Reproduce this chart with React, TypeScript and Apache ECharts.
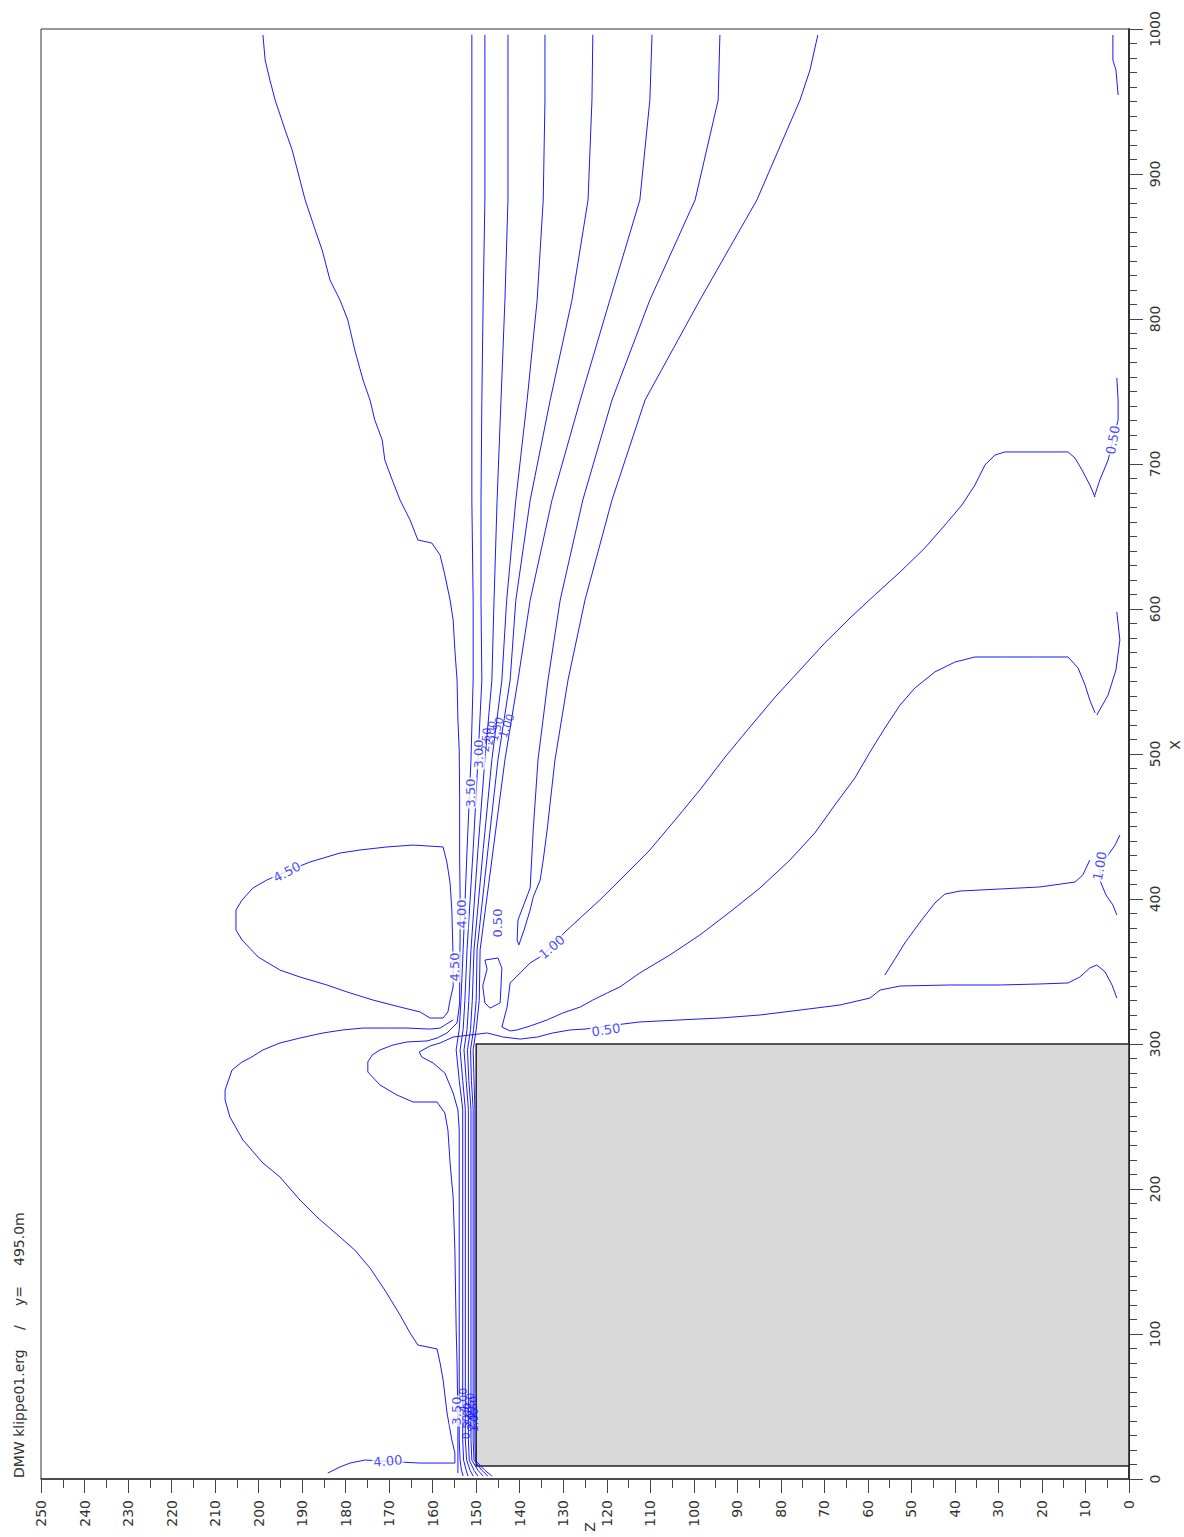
import React, { useEffect, useRef } from "react";
import * as echarts from "echarts";

// ---- axes ----
const Z_RANGE = [0, 250];
const X_RANGE = [0, 1000];
const CLIFF_Z = [0, 150];
const CLIFF_X = [9, 300];

// ---- shear-layer / cliff-top bundle (shared X stations, Z per contour) ----
const FAN_X = [996, 951, 882, 813, 744, 675, 606, 551, 496, 434, 365, 330, 310, 296, 275, 255, 27, 13, 6, 2];
const FAN_Z_350 = [151.0, 151.0, 151.0, 151.0, 151.0, 151.0, 150.7, 150.7, 151.2, 152.1, 153.0, 153.5, 153.9, 154.6, 153.9, 153.1, 153.1, 152.9, 152.3, 151.9];
const FAN_Z_300 = [148.0, 148.0, 148.0, 148.4, 148.7, 148.9, 148.9, 148.7, 149.6, 150.7, 152.1, 152.6, 153.0, 153.7, 153.1, 152.5, 152.5, 152.2, 151.4, 150.7];
const FAN_Z_250 = [142.7, 142.7, 142.7, 143.4, 144.3, 145.2, 145.9, 146.4, 148.0, 149.6, 151.2, 151.7, 152.1, 152.8, 152.3, 151.8, 151.8, 151.6, 150.5, 149.6];
const FAN_Z_200 = [134.2, 134.2, 134.6, 136.0, 138.3, 140.9, 143.0, 144.1, 146.4, 148.4, 150.5, 150.9, 151.3, 152.0, 151.7, 151.2, 151.2, 151.0, 149.6, 148.4];
const FAN_Z_150 = [123.2, 123.4, 124.3, 128.0, 133.0, 137.6, 140.9, 142.2, 145.0, 147.3, 149.8, 150.0, 150.6, 151.3, 151.1, 150.7, 150.7, 150.5, 148.7, 147.3];
const FAN_Z_100 = [109.6, 110.1, 112.4, 119.3, 126.1, 132.6, 137.6, 140.4, 143.4, 146.1, 149.1, 149.3, 150.0, 150.7, 150.5, 150.3, 150.3, 150.2, 148.0, 146.4];

// ---- individual contour polylines [Z, X] ----
const C400_OUTER = [
  [199.0, 995.9], [198.5, 978.6], [197.4, 964.8], [196.2, 951.0], [193.9, 930.3], [192.3, 916.6], [190.5, 895.9],
  [189.3, 882.1], [187.0, 861.4], [185.4, 847.6], [183.6, 826.9], [181.3, 813.1], [179.5, 799.3], [177.9, 778.6],
  [176.0, 757.9], [174.4, 744.1], [173.3, 730.3], [171.6, 716.6], [171.0, 702.8], [169.3, 689.0], [167.5, 675.2],
  [165.2, 661.4], [163.4, 647.6], [160.2, 645.5], [158.3, 637.2], [157.2, 623.4], [156.0, 606.2], [155.3, 592.4],
  [154.9, 571.7], [154.4, 551.0], [154.2, 523.4], [153.9, 502.8], [153.8, 468.3], [153.8, 447.6], [153.8, 426.9],
  [153.7, 402.8], [153.7, 373.8], [153.8, 351.0], [153.8, 328.3], [154.4, 314.5], [156.7, 307.6], [159.0, 304.1],
  [161.3, 302.1], [165.9, 301.4], [169.1, 299.3], [172.1, 295.9], [173.9, 292.4], [174.9, 287.6], [174.9, 280.7],
  [172.1, 271.7], [168.2, 264.8], [164.5, 260.0], [159.0, 260.0], [157.2, 252.4], [156.5, 240.7], [156.0, 217.9],
  [155.3, 194.5], [154.9, 157.9], [154.6, 102.8], [154.4, 80.0], [154.3, 59.3], [154.2, 33.8], [154.2, 4.1],
];
const C400_LOBE = [
  [155.3, 316.6], [158.3, 311.0], [160.6, 310.3], [165.9, 311.0], [170.5, 311.0], [176.0, 311.0], [180.6, 309.7],
  [185.2, 307.6], [190.5, 304.1], [195.1, 300.7], [199.0, 295.9], [202.0, 290.3], [203.8, 287.6], [206.1, 282.1],
  [207.7, 268.3], [207.7, 261.4], [206.6, 249.7], [203.6, 233.8], [199.0, 217.9], [195.1, 208.3], [190.5, 192.4],
  [186.6, 180.7], [181.3, 166.9], [177.9, 157.9], [174.4, 145.5], [171.0, 130.3], [167.5, 113.1], [165.2, 100.7],
  [163.4, 92.4], [159.0, 89.7], [158.3, 80.0], [157.6, 68.3], [156.7, 45.5], [155.6, 26.9], [154.9, 17.9],
  [154.9, 11.0], [162.9, 11.0], [167.5, 11.7], [175.5, 13.1], [179.0, 11.0], [181.3, 8.3], [184.1, 4.1],
];
const C450_LOBE = [
  [157.6, 435.9], [164.5, 437.2], [170.5, 435.9], [176.7, 433.8], [181.3, 431.7], [184.3, 429.0], [188.2, 425.5],
  [192.8, 420.0], [198.1, 413.1], [201.3, 407.6], [203.8, 399.3], [205.2, 392.4], [205.2, 378.6], [203.8, 371.7],
  [200.1, 360.0], [195.1, 351.0], [190.5, 346.2], [184.3, 340.7], [179.7, 335.9], [173.7, 330.3], [167.5, 325.5],
  [162.9, 322.1], [160.6, 317.9], [157.6, 317.9], [156.5, 322.1], [156.0, 330.3], [155.3, 339.3], [155.3, 357.9],
  [155.6, 392.4], [156.0, 411.0], [156.7, 424.8], [157.6, 435.9],
];
const C050_LOOP = [
  [94.0, 995.9], [94.4, 951.0], [99.7, 882.1], [110.1, 813.1], [118.8, 744.1], [125.5, 675.2], [130.7, 606.2],
  [133.5, 551.0], [135.8, 495.9], [136.9, 447.6], [137.6, 407.6], [140.4, 385.5], [140.6, 371.7], [140.2, 368.3],
  [139.0, 378.6], [137.6, 392.4], [136.9, 401.4], [135.3, 413.1], [134.6, 426.9], [133.7, 447.6], [131.9, 495.9],
  [128.9, 551.0], [125.0, 606.2], [118.8, 675.2], [111.2, 744.1], [98.6, 813.1], [85.5, 882.1], [75.6, 951.0],
  [73.3, 971.7], [71.5, 995.9],
];
const C050_LEE = [
  [153.0, 2.1], [153.4, 6.2], [153.7, 13.1], [153.9, 26.9], [153.9, 192.4], [153.9, 240.7], [154.2, 254.5],
  [155.3, 266.2], [157.2, 280.0], [159.9, 286.9], [162.5, 291.0], [163.1, 294.5], [160.6, 298.6], [158.3, 300.7],
  [155.3, 304.8], [151.4, 306.2], [147.5, 307.6], [143.8, 304.8], [139.9, 303.4], [136.0, 304.8], [132.4, 307.6],
  [128.4, 309.7], [125.0, 310.3], [118.1, 313.1], [112.4, 315.2], [103.2, 316.6], [94.0, 317.9], [84.8, 320.0],
  [75.6, 323.4], [66.4, 326.9], [59.5, 331.7], [57.2, 337.2], [52.6, 340.0], [41.1, 340.7], [29.6, 340.7],
  [20.5, 341.4], [14.0, 342.1], [11.3, 346.2], [9.0, 352.4], [7.4, 354.5], [5.5, 349.7], [3.9, 340.7], [2.8, 331.7],
];
const C100_LEE = [
  [7.8, 677.2], [9.0, 685.5], [10.8, 695.9], [12.4, 704.1], [14.0, 708.3], [20.5, 708.3], [28.5, 708.3],
  [30.8, 706.2], [33.1, 699.3], [35.4, 685.5], [38.4, 671.7], [42.3, 657.9], [46.9, 642.1], [52.6, 625.5],
  [58.4, 609.7], [64.1, 593.8], [69.9, 576.6], [75.6, 557.9], [81.3, 539.3], [87.1, 518.6], [92.8, 497.9],
  [98.6, 475.2], [104.3, 454.5], [110.1, 433.8], [115.8, 416.6], [121.6, 399.3], [126.1, 386.9], [129.6, 377.2],
  [131.7, 370.3], [134.6, 361.4], [137.6, 355.9], [139.9, 349.0], [142.2, 342.1], [142.9, 325.5], [144.1, 311.7],
  [142.2, 309.0], [140.6, 309.7], [137.6, 312.4], [133.7, 316.6], [130.1, 321.4], [126.1, 325.5], [123.2, 330.3],
  [119.9, 335.2], [117.0, 339.3], [112.4, 349.0], [105.5, 361.4], [98.6, 375.2], [91.7, 391.0], [84.8, 407.6],
  [77.9, 426.9], [72.2, 445.5], [67.6, 464.8], [63.0, 483.4], [59.5, 501.4], [56.1, 517.9], [52.6, 533.8],
  [49.2, 545.5], [44.6, 556.6], [40.0, 563.4], [35.4, 566.9], [29.6, 566.9], [20.5, 566.9], [14.0, 566.9],
  [11.7, 559.3], [10.1, 547.6], [9.0, 537.2], [7.8, 528.3],
];
const C100_FINGER = [
  [9.0, 426.9], [10.6, 416.6], [12.4, 411.7], [20.5, 408.3], [29.6, 406.9], [38.8, 405.5], [42.3, 403.4],
  [44.6, 397.2], [48.0, 384.1], [51.5, 369.7], [54.2, 356.6], [56.1, 347.6],
];
const GROUND_1 = [[3.7, 995.9], [3.7, 978.6], [3.0, 971.7], [2.5, 954.5]];
const GROUND_2 = [[2.8, 759.3], [2.5, 744.1], [2.5, 730.3], [3.7, 716.6], [4.8, 702.8], [6.7, 689.0], [8.0, 677.2]];
const GROUND_3 = [[2.8, 597.9], [2.1, 578.6], [3.0, 557.9], [4.8, 540.7], [7.4, 526.9]];
const GROUND_4 = [[2.1, 444.1], [3.2, 437.2], [4.8, 430.3], [6.7, 421.4], [6.7, 413.1], [5.3, 402.8], [3.7, 395.9], [2.8, 389.0]];
const SMALL_LOOP = [[148.0, 357.9], [145.0, 359.3], [144.1, 352.4], [144.5, 328.3], [146.8, 324.8], [148.0, 328.3], [148.5, 340.0], [147.5, 351.7], [148.0, 357.9]];

// ---- contour labels ----
const LABEL_TEXT = ["4.00", "4.50", "4.00", "4.50", "3.50", "3.00", "2.50", "2.00", "1.50", "1.00", "0.50", "1.00", "0.50", "0.50", "1.00",
  "3.50", "4.00", "3.00", "2.50", "2.00", "1.50", "1.00", "0.50"];
const LABEL_Z = [170.3, 193.5, 153.3, 155.1, 151.4, 149.4, 147.7, 146.6, 145.2, 142.9, 145.2, 132.6, 120.2, 3.7, 6.7,
  154.6, 153.0, 152.1, 151.4, 151.0, 150.6, 150.4, 152.3];
const LABEL_X = [12.4, 418.6, 389.7, 353.1, 473.1, 500.0, 509.7, 514.5, 517.2, 519.3, 383.4, 366.9, 309.7, 716.6, 422.8,
  46.9, 54.5, 44.1, 51.0, 42.1, 49.0, 40.7, 35.9];
const LABEL_ROT = [5, 28, 90, 90, 90, 90, 85, 80, 75, 70, 90, 40, 8, 80, 80, 90, 90, 90, 90, 90, 90, 90, 90];
const LABEL_BG = [1, 1, 1, 1, 1, 1, 0, 0, 0, 0, 1, 1, 1, 1, 1, 1, 0, 0, 0, 0, 0, 0, 0];

const BLUE = "#1a1aff";

function fan(zs: number[]) {
  return zs.map((z, i) => [z, FAN_X[i]]);
}

export default function App() {
  const ref = useRef<HTMLDivElement>(null);
  useEffect(() => {
    if (!ref.current) return;
    const chart = echarts.init(ref.current, null, { renderer: "svg" });
    const lines = [
      C400_OUTER, C400_LOBE, C450_LOBE, C050_LOOP, C050_LEE, C100_LEE, C100_FINGER,
      GROUND_1, GROUND_2, GROUND_3, GROUND_4, SMALL_LOOP,
      fan(FAN_Z_350), fan(FAN_Z_300), fan(FAN_Z_250), fan(FAN_Z_200), fan(FAN_Z_150), fan(FAN_Z_100),
    ];
    const lineSeries = lines.map((d) => ({
      type: "line",
      data: d,
      symbol: "none",
      showSymbol: false,
      silent: true,
      z: 2,
      lineStyle: { color: BLUE, width: 1 },
    }));
    const labelData = LABEL_TEXT.map((t, i) => ({
      value: [LABEL_Z[i], LABEL_X[i]],
      label: {
        show: true,
        formatter: t,
        rotate: LABEL_ROT[i],
        backgroundColor: LABEL_BG[i] ? "#ffffff" : "transparent",
        fontSize: LABEL_BG[i] ? 13 : 11,
      },
    }));
    const font = "DejaVu Sans";
    chart.setOption({
      animation: false,
      backgroundColor: "#ffffff",
      grid: { left: 41, right: 55, top: 29, bottom: 58, show: true, borderColor: "#333", borderWidth: 1 },
      xAxis: {
        type: "value",
        min: Z_RANGE[0],
        max: Z_RANGE[1],
        interval: 10,
        inverse: true,
        position: "bottom",
        axisLine: { show: true, onZero: false, lineStyle: { color: "#333", width: 1.5 } },
        axisTick: { show: true, length: 14, lineStyle: { color: "#444" } },
        minorTick: { show: true, splitNumber: 2, length: 9, lineStyle: { color: "#444" } },
        axisLabel: { rotate: 90, margin: 21, fontSize: 14, color: "#333", fontFamily: font, showMinLabel: true, showMaxLabel: true, formatter: (v: number) => String(v) },
        splitLine: { show: false },
        minorSplitLine: { show: false },
      },
      yAxis: {
        type: "value",
        min: X_RANGE[0],
        max: X_RANGE[1],
        interval: 100,
        position: "right",
        axisLine: { show: true, onZero: false, lineStyle: { color: "#333", width: 2 } },
        axisTick: { show: true, length: 14, lineStyle: { color: "#444" } },
        minorTick: { show: true, splitNumber: 10, length: 8, lineStyle: { color: "#444" } },
        axisLabel: { rotate: 90, margin: 19, fontSize: 14, color: "#333", fontFamily: font, showMinLabel: true, showMaxLabel: true, formatter: (v: number) => String(v) },
        splitLine: { show: false },
        minorSplitLine: { show: false },
      },
      series: [
        ...lineSeries,
        {
          type: "line",
          data: [],
          symbol: "none",
          silent: true,
          z: 5,
          markArea: {
            silent: true,
            itemStyle: { color: "#d9d9d9", borderColor: "#222", borderWidth: 1.5 },
            data: [[{ coord: [CLIFF_Z[0], CLIFF_X[0]] }, { coord: [CLIFF_Z[1], CLIFF_X[1]] }]],
          },
        },
        {
          type: "scatter",
          data: labelData,
          symbolSize: 0,
          silent: true,
          z: 4,
          label: {
            show: true,
            position: "inside",
            color: BLUE,
            fontFamily: font,
            fontSize: 13,
            padding: [0, 1],
          },
        },
      ],
      graphic: [
        { type: "text", x: 19, y: 1478, rotation: Math.PI / 2, style: { text: "DMW klippe01.erg", fill: "#333", font: `14px ${font}`, textAlign: "left", textVerticalAlign: "middle" } },
        { type: "text", x: 19, y: 1330, rotation: Math.PI / 2, style: { text: "/", fill: "#333", font: `14px ${font}`, textAlign: "left", textVerticalAlign: "middle" } },
        { type: "text", x: 19, y: 1306, rotation: Math.PI / 2, style: { text: "y=", fill: "#333", font: `14px ${font}`, textAlign: "left", textVerticalAlign: "middle" } },
        { type: "text", x: 19, y: 1266, rotation: Math.PI / 2, style: { text: "495.0m", fill: "#333", font: `14px ${font}`, textAlign: "left", textVerticalAlign: "middle" } },
        { type: "text", x: 590, y: 1527, rotation: Math.PI / 2, style: { text: "Z", fill: "#333", font: `14px ${font}`, textAlign: "center", textVerticalAlign: "middle" } },
        { type: "text", x: 1175, y: 745, rotation: Math.PI / 2, style: { text: "X", fill: "#333", font: `14px ${font}`, textAlign: "center", textVerticalAlign: "middle" } },
      ],
    });
    return () => chart.dispose();
  }, []);
  return (
    <div
      ref={ref}
      style={{ position: "absolute", left: 0, top: 0, width: 1184, height: 1537, background: "#fff" }}
    />
  );
}
